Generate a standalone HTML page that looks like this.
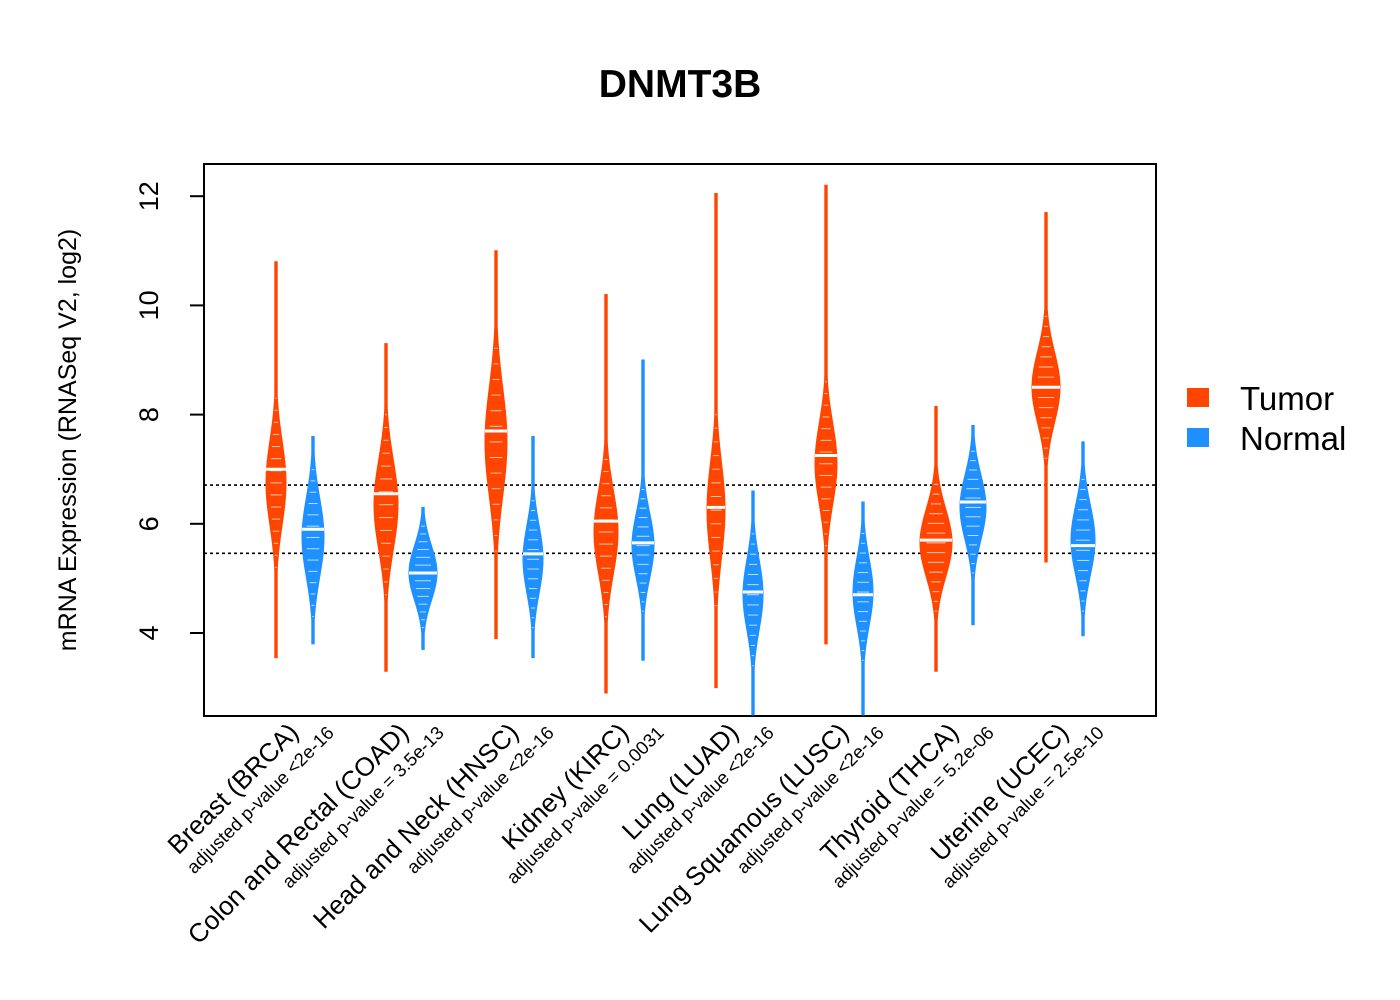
<!DOCTYPE html>
<html><head><meta charset="utf-8"><style>body{margin:0;background:#fff}svg{display:block;font-family:"Liberation Sans",Arial,sans-serif}</style></head>
<body>
<svg id="chart" width="1400" height="1000" viewBox="0 0 1400 1000" xmlns="http://www.w3.org/2000/svg">
<text x="680" y="97" text-anchor="middle" font-size="39" font-weight="bold">DNMT3B</text>
<rect x="204" y="164" width="952" height="552" fill="none" stroke="#000" stroke-width="2"/>
<text transform="translate(76,440) rotate(-90)" text-anchor="middle" font-size="25">mRNA Expression (RNASeq V2, log2)</text>
<g id="yaxis"></g>
<g id="marks"></g>
<g id="xlabels"></g>
<g>
<rect x="1187" y="388" width="22" height="19" fill="#ff4500"/>
<text x="1240" y="410" font-size="33">Tumor</text>
<rect x="1187" y="428" width="22" height="19" fill="#1e90ff"/>
<text x="1240" y="450" font-size="33">Normal</text>
</g>
</svg>
<script>
const categories=["Breast (BRCA)","Colon and Rectal (COAD)","Head and Neck (HNSC)","Kidney (KIRC)","Lung (LUAD)","Lung Squamous (LUSC)","Thyroid (THCA)","Uterine (UCEC)"];
const pvalues=["adjusted p-value <2e-16","adjusted p-value = 3.5e-13","adjusted p-value <2e-16","adjusted p-value = 0.0031","adjusted p-value <2e-16","adjusted p-value <2e-16","adjusted p-value = 5.2e-06","adjusted p-value = 2.5e-10"];
const tumorMin=[3.55,3.3,3.9,2.9,3.0,3.8,3.3,5.3];
const tumorMax=[10.8,9.3,11.0,10.2,12.05,12.2,8.15,11.7];
const tumorMedian=[7.0,6.55,7.7,6.05,6.3,7.25,5.7,8.5];
const tumorCoreLo=[5.2,4.7,5.5,4.3,4.5,5.6,4.4,7.2];
const tumorCoreHi=[8.3,8.0,9.5,7.4,8.0,8.6,6.9,9.8];
const tumorWidth=[10,12,11,12,9,11,16,14];
const normalMin=[3.8,3.7,3.55,3.5,2.5,2.5,4.15,3.95];
const normalMax=[7.6,6.3,7.6,9.0,6.6,6.4,7.8,7.5];
const normalMedian=[5.9,5.1,5.45,5.65,4.75,4.7,6.4,5.6];
const normalCoreLo=[4.3,4.1,4.1,4.4,3.4,3.5,5.1,4.4];
const normalCoreHi=[7.2,6.1,6.6,6.8,6.0,6.0,7.5,7.0];
const normalWidth=[11,14,10,11,10,10,13,12];
const yTicks=[4,6,8,10,12];
const refLines=[6.71,5.46];

const NS="http://www.w3.org/2000/svg";
const y=v=>633-(v-4)*54.6;
const xT=i=>276+i*110, xN=i=>313+i*110;
function mk(tag,attrs,parent){const e=document.createElementNS(NS,tag);for(const k in attrs)e.setAttribute(k,attrs[k]);parent.appendChild(e);return e;}
const ya=document.getElementById('yaxis');
yTicks.forEach(t=>{
 const l=mk('line',{x1:190,x2:204,y1:y(t),y2:y(t),stroke:'#000','stroke-width':2},ya);
 
 
 const tx=mk('text',{transform:`translate(158,${y(t)}) rotate(-90)`,'text-anchor':'middle','font-size':27},ya);
 tx.textContent=t;
 
 
});
const m=document.getElementById('marks');
refLines.forEach(r=>{
 const l=mk('line',{x1:204,x2:1156,y1:y(r),y2:y(r),stroke:'#000','stroke-width':1.6,'stroke-dasharray':'3,3'},m);
 
 
});
function violin(cx,lo,hi,med,cLo,cHi,hw,color,name){
 const g=mk('g',{},m);
 
 
 const sd=(cHi-cLo)/4, c=(cHi+cLo)/2;
 const pts=[],N=80;
 for(let k=0;k<=N;k++){const v=lo+(hi-lo)*k/N;const w=Math.max(1.2,hw*Math.exp(-0.5*((v-c)/sd)**2));pts.push([v,w]);}
 let d='M'+pts.map(p=>`${cx+p[1]},${y(p[0])}`).join('L')+'L'+pts.slice().reverse().map(p=>`${cx-p[1]},${y(p[0])}`).join('L')+'Z';
 mk('path',{d,fill:color,stroke:color,'stroke-width':1},g);
 for(let v=cLo;v<=cHi;v+=(cHi-cLo)/14){
  const w=hw*Math.exp(-0.5*((v-c)/sd)**2)*0.6;
  mk('line',{x1:cx-w,x2:cx+w,y1:y(v),y2:y(v),stroke:'#fff','stroke-width':1,opacity:0.7},g);
 }
 mk('line',{x1:cx-hw,x2:cx+hw,y1:y(med),y2:y(med),stroke:'#fff','stroke-width':3},g);
}
categories.forEach((c,i)=>{
 violin(xT(i),tumorMin[i],tumorMax[i],tumorMedian[i],tumorCoreLo[i],tumorCoreHi[i],tumorWidth[i],'#ff4500','tumor-violin');
 violin(xN(i),normalMin[i],normalMax[i],normalMedian[i],normalCoreLo[i],normalCoreHi[i],normalWidth[i],'#1e90ff','normal-violin');
});
const xl=document.getElementById('xlabels');
categories.forEach((c,i)=>{
 const t=mk('text',{transform:`translate(${300+i*110},734) rotate(-45)`,'text-anchor':'end','font-size':26},xl);
 t.textContent=c;
 
 
 const p=mk('text',{transform:`translate(${335+i*110},734) rotate(-45)`,'text-anchor':'end','font-size':18.5},xl);
 p.textContent=pvalues[i];
 
 
});
</script>
</body></html>
